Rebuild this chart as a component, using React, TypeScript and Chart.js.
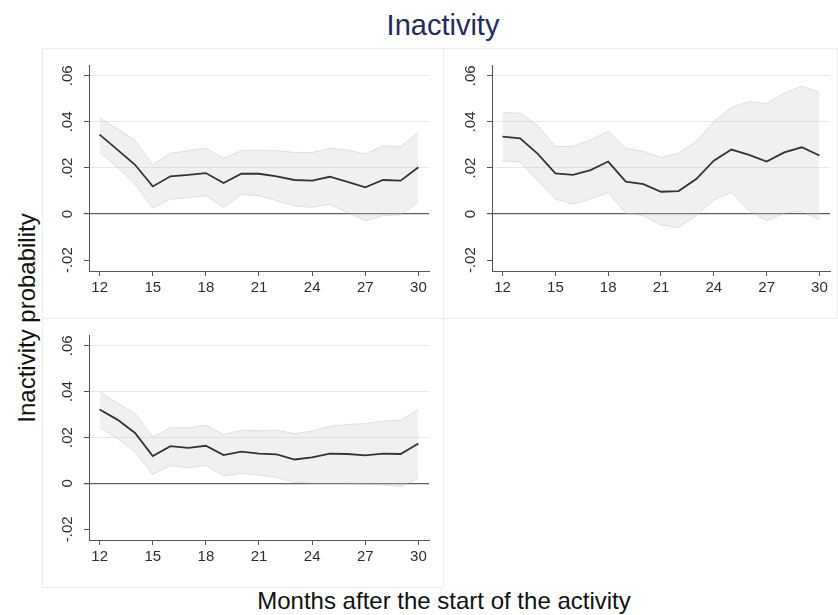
import React, { useEffect, useRef } from "react";
import { Chart, registerables } from "chart.js";

Chart.register(...registerables);

// Months after the start of the activity
const months = [12, 13, 14, 15, 16, 17, 18, 19, 20, 21, 22, 23, 24, 25, 26, 27, 28, 29, 30];
const xTicks = [12, 15, 18, 21, 24, 27, 30];
const yTicks = [-0.02, 0, 0.02, 0.04, 0.06];

// Panel 1 (top left): point estimate and confidence band
const p1Est = [0.0345, 0.028, 0.0214, 0.012, 0.0164, 0.017, 0.0178, 0.0135, 0.0175, 0.0175, 0.0164, 0.0148, 0.0145, 0.0162, 0.014, 0.0116, 0.0148, 0.0145, 0.0203];
const p1Upper = [0.0417, 0.037, 0.0319, 0.0214, 0.0264, 0.0275, 0.0286, 0.0242, 0.0275, 0.0278, 0.0275, 0.0268, 0.0267, 0.0286, 0.0278, 0.0261, 0.0297, 0.0293, 0.0355];
const p1Lower = [0.0268, 0.0203, 0.013, 0.0026, 0.0065, 0.0072, 0.008, 0.0029, 0.0084, 0.008, 0.0058, 0.0036, 0.0029, 0.0043, 0.0007, -0.0029, -0.0007, -0.0003, 0.0051];

// Panel 2 (top right)
const p2Est = [0.0336, 0.0329, 0.0261, 0.0177, 0.017, 0.0191, 0.0228, 0.0141, 0.013, 0.0097, 0.01, 0.0152, 0.0232, 0.028, 0.0257, 0.0228, 0.0268, 0.029, 0.0254];
const p2Upper = [0.0441, 0.0438, 0.0384, 0.0293, 0.0294, 0.0322, 0.0359, 0.0286, 0.0272, 0.0246, 0.0264, 0.0316, 0.0401, 0.0464, 0.0488, 0.0481, 0.0525, 0.0555, 0.0529];
const p2Lower = [0.0232, 0.0225, 0.0145, 0.0065, 0.0043, 0.0065, 0.0094, 0.0004, -0.0007, -0.0048, -0.0058, -0.0007, 0.0061, 0.0094, 0.0014, -0.0029, 0.0004, 0.0012, -0.0025];

// Panel 3 (bottom left)
const p3Est = [0.0322, 0.0278, 0.022, 0.0119, 0.0162, 0.0155, 0.0164, 0.0123, 0.0138, 0.013, 0.0126, 0.0104, 0.0113, 0.013, 0.0128, 0.0122, 0.013, 0.0128, 0.0174];
const p3Upper = [0.0399, 0.0351, 0.0304, 0.0203, 0.0243, 0.0242, 0.0254, 0.0213, 0.0232, 0.0229, 0.0232, 0.0217, 0.0228, 0.0249, 0.0257, 0.0261, 0.0271, 0.0275, 0.0322];
const p3Lower = [0.0243, 0.0196, 0.0138, 0.0039, 0.0077, 0.0068, 0.0077, 0.0032, 0.0043, 0.0036, 0.0026, 0.0004, 0.0, 0.0, 0.0, -0.0004, -0.0007, -0.0014, 0.0022];

const FONT = "'Liberation Sans', Arial, sans-serif";
const AXIS = "#555555";

const fmtY = (v: number) => {
  if (Math.abs(v) < 1e-9) return "0";
  const s = Math.abs(v).toFixed(2).replace(/^0/, "");
  return (v < 0 ? "-" : "") + s;
};

type PanelProps = {
  est: number[];
  upper: number[];
  lower: number[];
  left: number;
  top: number;
  width: number;
  height: number;
  padTop: number;
  padRight: number;
  yWidth: number;
  xHeight: number;
};

function Panel(p: PanelProps) {
  const ref = useRef<HTMLCanvasElement | null>(null);

  useEffect(() => {
    if (!ref.current) return;
    const pts = (arr: number[]) => arr.map((y, i) => ({ x: months[i], y }));
    const chart = new Chart(ref.current, {
      type: "line",
      data: {
        datasets: [
          {
            data: pts(p.est),
            borderColor: "#333333",
            borderWidth: 1.8,
            pointRadius: 0,
            fill: false,
            tension: 0,
          },
          {
            data: pts(p.upper),
            borderColor: "rgba(175,175,175,0.35)",
            borderWidth: 1,
            backgroundColor: "rgba(195,195,195,0.25)",
            pointRadius: 0,
            fill: "+1",
            tension: 0,
          },
          {
            data: pts(p.lower),
            borderColor: "rgba(175,175,175,0.35)",
            borderWidth: 1,
            pointRadius: 0,
            fill: false,
            tension: 0,
          },
        ],
      },
      options: {
        responsive: false,
        animation: false,
        events: [],
        layout: { padding: { top: p.padTop, right: p.padRight, left: 0, bottom: 0 } },
        plugins: { legend: { display: false }, tooltip: { enabled: false } },
        scales: {
          x: {
            type: "linear",
            min: 11.4,
            max: 30.6,
            afterBuildTicks: (s: any) => {
              s.ticks = xTicks.map((v) => ({ value: v }));
            },
            afterFit: (s: any) => {
              s.height = p.xHeight;
            },
            border: { display: true, color: AXIS, width: 1 },
            grid: { drawOnChartArea: false, drawTicks: true, tickLength: 5, tickColor: AXIS },
            ticks: {
              color: "#2e2e2e",
              padding: 3,
              maxRotation: 0,
              minRotation: 0,
              font: { family: FONT, size: 15 },
              callback: (v: any) => String(v),
            },
          },
          y: {
            type: "linear",
            min: -0.0247,
            max: 0.0647,
            afterBuildTicks: (s: any) => {
              s.ticks = yTicks.map((v) => ({ value: v }));
            },
            afterFit: (s: any) => {
              s.width = p.yWidth;
            },
            border: { display: true, color: AXIS, width: 1 },
            grid: {
              drawTicks: true,
              tickLength: 5,
              tickColor: AXIS,
              color: (c: any) => {
                const v = c.tick ? c.tick.value : NaN;
                if (Math.abs(v) < 1e-9) return "#5f5f5f";
                if (v > 0) return "#dfeaea";
                return "rgba(0,0,0,0)";
              },
              lineWidth: (c: any) => {
                const v = c.tick ? c.tick.value : NaN;
                return Math.abs(v) < 1e-9 ? 1.2 : 1;
              },
            },
            ticks: {
              color: "#2e2e2e",
              padding: 3,
              minRotation: 90,
              maxRotation: 90,
              crossAlign: "center",
              font: { family: FONT, size: 15 },
              callback: (v: any) => fmtY(Number(v)),
            },
          },
        },
      },
    } as any);
    return () => chart.destroy();
  }, []);

  return (
    <div
      style={{
        position: "absolute",
        left: p.left,
        top: p.top,
        width: p.width,
        height: p.height,
        boxSizing: "border-box",
        border: "1px solid #e8eeee",
      }}
    >
      <canvas
        ref={ref}
        width={p.width - 2}
        height={p.height - 2}
        style={{ position: "absolute", left: 0, top: 0, width: p.width - 2, height: p.height - 2 }}
      />
    </div>
  );
}

export default function App() {
  return (
    <div
      style={{
        position: "absolute",
        left: 0,
        top: 0,
        width: 838,
        height: 615,
        background: "#ffffff",
        overflow: "hidden",
        fontFamily: FONT,
      }}
    >
      <div
        style={{
          position: "absolute",
          left: 443,
          top: 10,
          transform: "translateX(-50%)",
          fontSize: 29,
          lineHeight: "30px",
          color: "#1f2d5c",
          whiteSpace: "nowrap",
        }}
      >
        Inactivity
      </div>

      <Panel est={p1Est} upper={p1Upper} lower={p1Lower} left={42} top={48} width={402} height={271} padTop={16} padRight={14} yWidth={46} xHeight={47} />
      <Panel est={p2Est} upper={p2Upper} lower={p2Lower} left={443} top={48} width={395} height={271} padTop={16} padRight={7} yWidth={48} xHeight={47} />
      <Panel est={p3Est} upper={p3Upper} lower={p3Lower} left={42} top={318} width={402} height={270} padTop={16} padRight={14} yWidth={46} xHeight={47} />

      <div
        style={{
          position: "absolute",
          left: 27,
          top: 318,
          transform: "translate(-50%, -50%) rotate(-90deg)",
          fontSize: 24,
          lineHeight: "26px",
          color: "#111",
          whiteSpace: "nowrap",
        }}
      >
        Inactivity probability
      </div>

      <div
        style={{
          position: "absolute",
          left: 444,
          top: 601,
          transform: "translate(-50%, -50%)",
          fontSize: 24,
          lineHeight: "26px",
          color: "#111",
          whiteSpace: "nowrap",
        }}
      >
        Months after the start of the activity
      </div>
    </div>
  );
}
